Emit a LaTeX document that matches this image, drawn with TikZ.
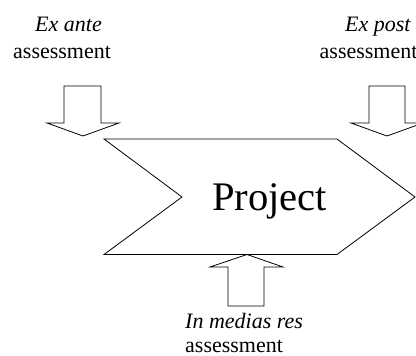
\documentclass[tikz,border=0pt]{standalone}
\usepackage{fontspec}
\setmainfont{Liberation Serif}
\begin{document}
\begin{tikzpicture}[x=1pt,y=-1pt,
  shapeline/.style={draw=black,line width=0.8pt,line join=miter,fill=white},
  lbl/.style={inner sep=0pt,text depth=0pt,font=\fontsize{22}{27}\selectfont},
  big/.style={inner sep=0pt,font=\fontsize{40.6}{48}\selectfont}]
\useasboundingbox (0,0) rectangle (416,356);
% chevron
\draw[shapeline] (104,139) -- (337,139) -- (415,197) -- (337,254.5) -- (104,254.5) -- (182,197) -- cycle;
\node[big,anchor=base west] (project) at (212,210) {Project};
% ex ante arrow
\draw[shapeline] (64,86) -- (101,86) -- (101,123) -- (119,123) -- (83,136) -- (47,123) -- (64,123) -- cycle;
% ex post arrow
\draw[shapeline] (369,86) -- (405,86) -- (405,123) -- (423,123) -- (387,136) -- (351,123) -- (369,123) -- cycle;
% in medias res arrow
\draw[shapeline] (228,306) -- (264,306) -- (264,267) -- (283,267) -- (247,254.5) -- (210,267) -- (228,267) -- cycle;
% labels
\node[lbl,anchor=base west] (exante) at (35,31) {\itshape Ex ante};
\node[lbl,anchor=base west] (exanteb) at (13,58) {assessment};
\node[lbl,anchor=base west] (expost) at (345,31) {\itshape Ex post};
\node[lbl,anchor=base west] (expostb) at (319.5,58) {assessment};
\node[lbl,anchor=base west] (inmed) at (185,328) {\itshape In medias res};
\node[lbl,anchor=base west] (inmedb) at (185,352.5) {assessment};
\end{tikzpicture}
\end{document}
